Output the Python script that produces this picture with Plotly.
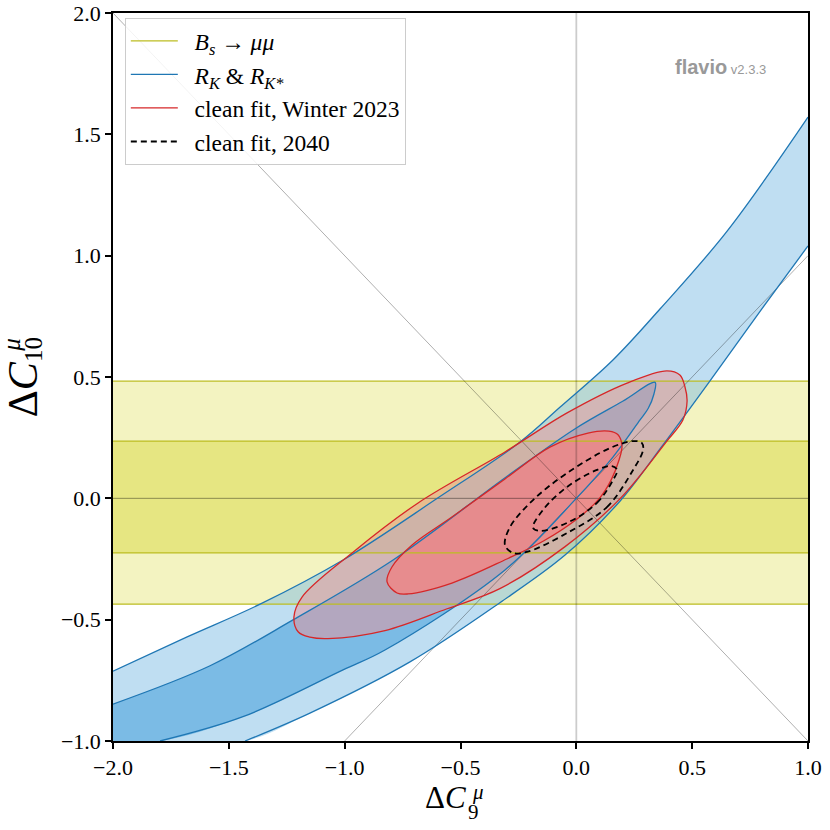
import plotly.graph_objects as go

# axis limits (Delta C9, Delta C10)
c9_range = [-2.0, 1.0]
c10_range = [-1.0, 2.0]

# Bs -> mu mu : 1 sigma and 2 sigma bands in C10
bs_1sigma = [-0.225, 0.236]
bs_2sigma = [-0.436, 0.483]

# RK & RK* : 2 sigma band edges
rk2_up_x = [-2.0, -1.68, -1.365, -1.007, -0.6, -0.243, -0.071, 0.158, 0.361, 0.65, 1.0]
rk2_up_y = [-0.712, -0.571, -0.436, -0.254, 0.0, 0.232, 0.375, 0.57, 0.78, 1.10, 1.571]
rk2_lo_x = [-1.43, -1.15, -0.72, -0.33, -0.05, 0.19, 0.37, 0.57, 0.80, 1.0]
rk2_lo_y = [-1.0, -0.885, -0.675, -0.43, -0.235, -0.01, 0.215, 0.475, 0.78, 1.04]

# RK & RK* : 1 sigma region (upper edge up to the tip, then lower edge back down)
rk1_up_x = [-2.0, -1.581, -1.223, -0.791, -0.30, 0.0, 0.20, 0.34]
rk1_up_y = [-0.848, -0.69, -0.501, -0.254, 0.09, 0.29, 0.40, 0.478]
rk1_lo_x = [0.335, 0.31, 0.275, 0.158, 0.0, -0.308, -0.826, -1.007, -1.439, -1.797]
rk1_lo_y = [0.43, 0.37, 0.323, 0.17, 0.0, -0.295, -0.625, -0.707, -0.900, -1.0]

# clean fit, Winter 2023 (2 sigma and 1 sigma contours)
fit23_2s_x = [-0.558, -0.33, -0.05, 0.19, 0.39, 0.46, 0.478, 0.469, 0.447, 0.391, 0.219, -0.04,
              -0.308, -0.683, -0.968, -1.184, -1.219, -1.20, -1.15, -1.072, -0.826]
fit23_2s_y = [-0.455, -0.372, -0.20, 0.0, 0.235, 0.323, 0.40, 0.459, 0.508, 0.525, 0.475, 0.352,
              0.191, -0.019, -0.225, -0.407, -0.489, -0.551, -0.572, -0.578, -0.545]
fit23_1s_x = [-0.537, -0.30, -0.14, 0.01, 0.10, 0.15, 0.185, 0.197, 0.18, 0.14, 0.05, -0.114,
              -0.308, -0.537, -0.709, -0.796, -0.817, -0.774, -0.727]
fit23_1s_y = [-0.349, -0.25, -0.175, -0.08, 0.0, 0.075, 0.16, 0.215, 0.262, 0.277, 0.269, 0.211,
              0.080, -0.077, -0.192, -0.283, -0.344, -0.390, -0.394]

# clean fit, 2040 projection
fit40_2s_x = [-0.040, 0.132, 0.245, 0.288, 0.283, 0.245, 0.145, -0.040, -0.187, -0.286, -0.308, -0.273, -0.213]
fit40_2s_y = [-0.143, -0.036, 0.117, 0.199, 0.228, 0.236, 0.207, 0.104, -0.007, -0.118, -0.193, -0.225, -0.221]
fit40_1s_x = [-0.040, 0.089, 0.158, 0.176, 0.154, 0.089, -0.040, -0.144, -0.187, -0.157]
fit40_1s_y = [-0.101, -0.019, 0.075, 0.117, 0.133, 0.117, 0.047, -0.048, -0.121, -0.134]

YEL = '#bcbd22'
BLUE = '#1f77b4'
RED = '#d62728'
SERIF = 'Liberation Serif'
NOHOVER = dict(showlegend=False, hoverinfo='skip')
PAD = '\u00a0\u00a0'  # a little room between legend line and label


def closed(xs, ys):
    return xs + xs[:1], ys + ys[:1]


fig = go.Figure()

# ---- filled areas ----
for lo, hi, col in [(bs_2sigma[0], bs_2sigma[1], '#f3f3c1'), (bs_1sigma[0], bs_1sigma[1], '#e6e682')]:
    fig.add_trace(go.Scatter(x=[c9_range[0], c9_range[1], c9_range[1], c9_range[0]], y=[lo, lo, hi, hi],
                             fill='toself', fillcolor=col, mode='none', **NOHOVER))

# 2 sigma RK band: fill between upper and lower edge (lower edge starts in the axes corner)
fig.add_trace(go.Scatter(x=rk2_up_x, y=rk2_up_y, mode='lines',
                         line=dict(width=0, shape='spline'), **NOHOVER))
fig.add_trace(go.Scatter(x=[c9_range[0]] + rk2_lo_x, y=[c10_range[0]] + rk2_lo_y, mode='lines',
                         line=dict(width=0, shape='spline'), fill='tonexty',
                         fillcolor='rgba(127,189,229,0.5)', **NOHOVER))
fig.add_trace(go.Scatter(x=rk1_up_x + rk1_lo_x + [c9_range[0]], y=rk1_up_y + rk1_lo_y + [c10_range[0]],
                         mode='lines', line=dict(width=0, shape='spline'), fill='toself',
                         fillcolor='rgba(55,152,216,0.5)', **NOHOVER))

fx, fy = closed(fit23_2s_x, fit23_2s_y)
fig.add_trace(go.Scatter(x=fx, y=fy, mode='lines', line=dict(width=0, shape='spline'), fill='toself',
                         fillcolor='rgba(235,147,153,0.5)', **NOHOVER))
fx, fy = closed(fit23_1s_x, fit23_1s_y)
fig.add_trace(go.Scatter(x=fx, y=fy, mode='lines', line=dict(width=0, shape='spline'), fill='toself',
                         fillcolor='rgba(240,135,135,0.85)', **NOHOVER))

# ---- lines ----
for i, v in enumerate(bs_2sigma + bs_1sigma):
    fig.add_trace(go.Scatter(x=c9_range, y=[v, v], mode='lines', line=dict(color=YEL, width=1.3),
                             name=PAD + '<i>B<sub>s</sub></i> → <i>μμ</i>', legendgroup='bs',
                             showlegend=(i == 0), hoverinfo='skip'))

# reference lines through the origin
fig.add_trace(go.Scatter(x=[0, 0], y=c10_range, mode='lines',
                         line=dict(color='rgba(0,0,0,0.2)', width=1.8), **NOHOVER))
fig.add_trace(go.Scatter(x=c9_range, y=[0, 0], mode='lines',
                         line=dict(color='rgba(0,0,0,0.4)', width=1), **NOHOVER))
fig.add_trace(go.Scatter(x=c9_range, y=[-v for v in c9_range], mode='lines',
                         line=dict(color='rgba(0,0,0,0.4)', width=0.8), **NOHOVER))
fig.add_trace(go.Scatter(x=[c10_range[0], c9_range[1]], y=[c10_range[0], c9_range[1]], mode='lines',
                         line=dict(color='rgba(0,0,0,0.4)', width=0.8), **NOHOVER))

for i, (xs, ys) in enumerate([(rk2_up_x, rk2_up_y), (rk2_lo_x, rk2_lo_y),
                              (rk1_up_x + rk1_lo_x, rk1_up_y + rk1_lo_y)]):
    fig.add_trace(go.Scatter(x=xs, y=ys, mode='lines', line=dict(color=BLUE, width=1.3, shape='spline'),
                             name=PAD + '<i>R<sub>K</sub></i> &amp; <i>R<sub>K*</sub></i>', legendgroup='rk',
                             showlegend=(i == 0), hoverinfo='skip'))

for i, (xs, ys) in enumerate([(fit23_2s_x, fit23_2s_y), (fit23_1s_x, fit23_1s_y)]):
    cx, cy = closed(xs, ys)
    fig.add_trace(go.Scatter(x=cx, y=cy, mode='lines', line=dict(color=RED, width=1.3, shape='spline'),
                             name=PAD + 'clean fit, Winter 2023', legendgroup='f23',
                             showlegend=(i == 0), hoverinfo='skip'))

for i, (xs, ys) in enumerate([(fit40_2s_x, fit40_2s_y), (fit40_1s_x, fit40_1s_y)]):
    cx, cy = closed(xs, ys)
    fig.add_trace(go.Scatter(x=cx, y=cy, mode='lines',
                             line=dict(color='black', width=1.8, dash='6px,4px', shape='spline'),
                             name=PAD + 'clean fit, 2040', legendgroup='f40',
                             showlegend=(i == 0), hoverinfo='skip'))

axis_common = dict(showline=True, mirror=True, linecolor='black', linewidth=1.5,
                   ticks='outside', ticklen=6, tickwidth=1.5, tickcolor='black',
                   showgrid=False, zeroline=False, dtick=0.5, tickformat='.1f', automargin=False,
                   tickfont=dict(family=SERIF, size=22, color='black'))

fig.update_layout(
    width=830, height=830,
    margin=dict(l=113, r=22, t=13, b=89),
    plot_bgcolor='white', paper_bgcolor='white',
    xaxis=dict(range=c9_range, **axis_common),
    yaxis=dict(range=c10_range, **axis_common),
    legend=dict(x=0.017, y=0.993, xanchor='left', yanchor='top',
                bgcolor='rgba(255,255,255,0.85)', bordercolor='#cccccc', borderwidth=1,
                font=dict(family=SERIF, size=23.5, color='black'),
                traceorder='grouped', tracegroupgap=0, itemwidth=47),
    annotations=[
        dict(text='<b>flavio</b><span style="font-size:13px"> v2.3.3</span>', xref='paper', yref='paper',
             x=0.942, y=0.926, xanchor='right', yanchor='middle', showarrow=False,
             font=dict(family='Liberation Sans', size=20, color='#999999')),
        # x axis title
        dict(text='Δ<i>C</i>', xref='paper', yref='paper', x=0.478, y=-0.078, showarrow=False,
             xanchor='center', yanchor='middle', font=dict(family=SERIF, size=31, color='black')),
        dict(text='9', xref='paper', yref='paper', x=0.519, y=-0.0975, showarrow=False,
             xanchor='center', yanchor='middle', font=dict(family=SERIF, size=21, color='black')),
        dict(text='<i>μ</i>', xref='paper', yref='paper', x=0.525, y=-0.070, showarrow=False,
             xanchor='center', yanchor='middle', font=dict(family=SERIF, size=21, color='black')),
        # y axis title (drawn larger than the x one, as in the original)
        dict(text='Δ<i>C</i>', xref='paper', yref='paper', x=-0.129, y=0.4835, showarrow=False, textangle=-90,
             xanchor='center', yanchor='middle', font=dict(family=SERIF, size=42, color='black')),
        dict(text='10', xref='paper', yref='paper', x=-0.1137, y=0.5385, showarrow=False, textangle=-90,
             xanchor='center', yanchor='middle', font=dict(family=SERIF, size=25, color='black')),
        dict(text='<i>μ</i>', xref='paper', yref='paper', x=-0.146, y=0.5435, showarrow=False, textangle=-90,
             xanchor='center', yanchor='middle', font=dict(family=SERIF, size=25, color='black')),
    ],
)

# drop the browser's default 8px body margin so the 830px figure fills the window
fig.write_html("out.html", config={'displayModeBar': False},
               post_script="document.body.style.margin='0px';")
